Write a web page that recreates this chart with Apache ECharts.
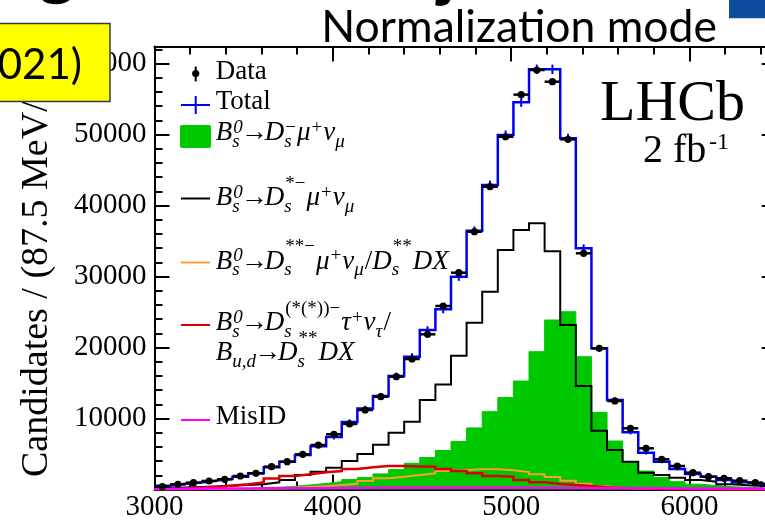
<!DOCTYPE html>
<html>
<head>
<meta charset="utf-8">
<script src="https://cdn.jsdelivr.net/npm/echarts@6/dist/echarts.min.js"></script>
<style>
  html, body { margin: 0; padding: 0; background: #fff; }
  #chart { width: 765px; height: 525px; }
</style>
</head>
<body>
<div id="chart"></div>
<script>
// Corrected-mass histogram binning (MeV), 40 bins of 87.5 MeV
const X_MIN = 3000;
const X_MAX = 6500;
const BIN_WIDTH = 87.5;
const Y_MAX = 62400;

// Observed candidates per bin
const dataCounts = [400, 730, 960, 1200, 1440, 1900, 2280, 3210, 3920, 4960,
  6270, 7780, 9230, 11200, 13070, 15890, 18380, 21860, 25850, 30540,
  36310, 42650, 49690, 55620, 59090, 57440, 49320, 33270, 19890, 12470,
  8620, 5800, 4250, 3310, 2370, 1800, 1580, 1240, 960, 800];

// Total fit and its uncertainty
const totalFit = [530, 800, 1000, 1250, 1500, 1800, 2280, 3150, 3900, 4850,
  6100, 7400, 9500, 11400, 13170, 15990, 18700, 22470, 25380, 29970,
  36450, 42890, 49930, 54540, 59190, 59190, 49460, 33970, 19890, 12610,
  8060, 5180, 3920, 2890, 2180, 1800, 1340, 1010, 730, 600];
const totalErr = [100, 120, 140, 150, 170, 190, 210, 240, 260, 290,
  320, 350, 380, 410, 440, 470, 500, 530, 560, 580,
  600, 620, 640, 650, 660, 660, 640, 560, 450, 360,
  300, 250, 220, 190, 170, 150, 130, 120, 100, 90];

// Fit components
const dsMuNu = [0, 0, 30, 60, 100, 150, 220, 320, 450, 650,
  850, 1100, 1400, 1700, 2200, 2800, 3700, 4500, 5500, 6750,
  8680, 10960, 12950, 15280, 19410, 23870, 25040, 18700, 10870, 6830,
  3800, 2600, 1700, 1100, 750, 550, 400, 300, 220, 160];
const dsStarMuNu = [200, 280, 350, 430, 520, 620, 750, 1010, 1340, 2040,
  2500, 3070, 4000, 5000, 6300, 8000, 9550, 12610, 14800, 18850,
  23500, 27860, 33730, 36550, 37490, 33550, 23170, 14580, 8260, 5560,
  3920, 2370, 2040, 1660, 1340, 1100, 730, 600, 500, 400];
const dsStarStar = [0, 10, 20, 40, 60, 90, 130, 180, 250, 350,
  470, 620, 800, 1200, 1580, 1800, 2040, 2280, 2600, 2750,
  2850, 2850, 2700, 2450, 2150, 1750, 1250, 800, 450, 250,
  130, 70, 40, 20, 10, 5, 0, 0, 0, 0];
const tauAndDD = [80, 150, 250, 380, 550, 750, 1000, 1550, 1900, 2150,
  2420, 2600, 2900, 3150, 3300, 3320, 3250, 3200, 2900, 2600,
  2280, 1900, 1800, 1340, 1010, 780, 630, 490, 300, 200,
  130, 90, 60, 40, 30, 20, 15, 10, 10, 5];
const misID = [100, 110, 120, 130, 140, 150, 160, 170, 180, 190,
  200, 210, 220, 230, 240, 250, 250, 250, 250, 250,
  250, 250, 240, 240, 230, 220, 210, 200, 190, 180,
  170, 160, 150, 140, 130, 130, 120, 120, 110, 110];

const COLORS = {
  green: '#00c800', black: '#000000', orange: '#ff9c33',
  red: '#d80000', magenta: '#ff00ff', blue: '#0000f0'
};
const SERIF = '"Liberation Serif","Times New Roman",serif';
const SANS = 'Lato,"Open Sans",sans-serif';
const K_SERIF = 0.31;   // baseline offset below the em middle
const K_SANS = 0.27;

// histogram outline: one point per lower bin edge plus the closing edge
function stepPoints(vals) {
  const pts = vals.map((v, k) => [X_MIN + k * BIN_WIDTH, v]);
  pts.push([X_MIN + vals.length * BIN_WIDTH, vals[vals.length - 1]]);
  return pts;
}
const binCenter = k => X_MIN + (k + 0.5) * BIN_WIDTH;

function histLine(name, vals, color, width, z) {
  return {
    name, type: 'line', step: 'end', data: stepPoints(vals),
    symbol: 'none', showSymbol: false, animation: false, z,
    lineStyle: { color, width, join: 'miter' }
  };
}

// --- text helpers -------------------------------------------------------
const mctx = document.createElement('canvas').getContext('2d');
function wOf(text, font) { mctx.font = font; return mctx.measureText(text).width; }
function fontStr(size, italic, family) {
  return (italic ? 'italic ' : '') + size + 'px ' + (family || SERIF);
}
function txt(text, x, baseline, size, italic, extra) {
  extra = extra || {};
  const fam = extra.family || SERIF;
  const k = extra.k || K_SERIF;
  return {
    type: 'text', x, y: baseline - k * size, z: extra.z || 50,
    style: {
      text, font: (extra.bold ? 'bold ' : '') + fontStr(size, italic, fam),
      fill: extra.color || '#000', align: extra.align || 'left', verticalAlign: 'middle'
    }
  };
}
// tiny formula layout: {t} main italic, {t, up} main upright,
// {sb, sp, hi} stacked sub/superscript
function formula(tokens, x0, baseline, size) {
  const out = [];
  const ss = Math.round(size * 0.7);
  let x = x0;
  tokens.forEach(tok => {
    if (tok.t !== undefined) {
      const it = !tok.up;
      const tight = tok.t === '\u2192' ? 3 : 0;
      x -= tight;
      out.push(txt(tok.t, x, baseline, size, it));
      x += wOf(tok.t, fontStr(size, it)) - tight;
    } else {
      let w = 0;
      if (tok.sb) {
        out.push(txt(tok.sb, x, baseline + 6, ss, true));
        w = Math.max(w, wOf(tok.sb, fontStr(ss, true)));
      }
      if (tok.sp) {
        const rise = tok.hi ? 17 : 8;
        const spIt = !tok.spUp;
        out.push(txt(tok.sp, x + 1, baseline - rise, ss, spIt));
        w = Math.max(w, wOf(tok.sp, fontStr(ss, spIt)) + 1);
      }
      x += w + 1;
    }
  });
  return out;
}

const LEG_X = 215.7;
const LEG_SIZE = 27;
const legendGraphics = [];
legendGraphics.push(
  { type: 'line', z: 50, shape: { x1: 195.7, y1: 66.5, x2: 195.7, y2: 81.5 }, style: { stroke: '#000', lineWidth: 2 } },
  { type: 'circle', z: 50, shape: { cx: 195.7, cy: 73.5, r: 3.6 }, style: { fill: '#000' } },
  txt('Data', LEG_X, 80, LEG_SIZE, false),
  { type: 'line', z: 50, shape: { x1: 181, y1: 105, x2: 210, y2: 105 }, style: { stroke: COLORS.blue, lineWidth: 2 } },
  { type: 'line', z: 50, shape: { x1: 195.7, y1: 96, x2: 195.7, y2: 114 }, style: { stroke: COLORS.blue, lineWidth: 2 } },
  txt('Total', LEG_X, 110, LEG_SIZE, false),
  { type: 'rect', z: 50, shape: { x: 180, y: 125, width: 31, height: 23, r: 2 }, style: { fill: COLORS.green } },
  { type: 'line', z: 50, shape: { x1: 181, y1: 198.5, x2: 210, y2: 198.5 }, style: { stroke: COLORS.black, lineWidth: 2 } },
  { type: 'line', z: 50, shape: { x1: 181, y1: 262.5, x2: 210, y2: 262.5 }, style: { stroke: COLORS.orange, lineWidth: 2 } },
  { type: 'line', z: 50, shape: { x1: 181, y1: 325, x2: 210, y2: 325 }, style: { stroke: COLORS.red, lineWidth: 2 } },
  { type: 'line', z: 50, shape: { x1: 181, y1: 420, x2: 210, y2: 420 }, style: { stroke: COLORS.magenta, lineWidth: 2 } },
  txt('MisID', LEG_X, 425, LEG_SIZE, false)
);
const Bs0 = [{ t: 'B' }, { sb: 's', sp: '0' }, { t: '\u2192', up: true }];
legendGraphics.push(...formula(Bs0.concat([
  { t: 'D' }, { sb: 's', sp: '\u2212', spUp: true }, { t: '\u03bc' }, { sp: '+', spUp: true },
  { t: '\u03bd' }, { sb: '\u03bc' }]), LEG_X, 141.7, LEG_SIZE));
legendGraphics.push(...formula(Bs0.concat([
  { t: 'D' }, { sb: 's', sp: '*\u2212', hi: true, spUp: true }, { t: '\u03bc' }, { sp: '+', spUp: true },
  { t: '\u03bd' }, { sb: '\u03bc' }]), LEG_X, 206.7, LEG_SIZE));
legendGraphics.push(...formula(Bs0.concat([
  { t: 'D' }, { sb: 's', sp: '**\u2212', hi: true, spUp: true }, { t: '\u03bc' }, { sp: '+', spUp: true },
  { t: '\u03bd' }, { sb: '\u03bc' }, { t: '/', up: true },
  { t: 'D' }, { sb: 's', sp: '**', hi: true, spUp: true }, { t: 'DX' }]), LEG_X, 270, LEG_SIZE));
legendGraphics.push(...formula(Bs0.concat([
  { t: 'D' }, { sb: 's', sp: '(*(*))\u2212', hi: true, spUp: true }, { t: '\u03c4' }, { sp: '+', spUp: true },
  { t: '\u03bd' }, { sb: '\u03c4' }, { t: '/', up: true }]), LEG_X, 331.7, LEG_SIZE));
legendGraphics.push(...formula([
  { t: 'B' }, { sb: 'u,d' }, { t: '\u2192', up: true },
  { t: 'D' }, { sb: 's', sp: '**', hi: true, spUp: true }, { t: 'DX' }], LEG_X, 361.7, LEG_SIZE));

// experiment label
const labelGraphics = [
  txt('LHCb', 600, 123, 58, false),
  txt('2 fb', 643, 163.5, 40, false),
  txt('-1', 709, 150, 24, false)
];

// axis title, rotated to read upwards
const yTitle = {
  type: 'text', x: 37.5, y: 477, rotation: Math.PI / 2, z: 40,
  style: { text: 'Candidates / (87.5 MeV/c\u00b2)', font: '38px ' + SERIF, fill: '#000', align: 'left', verticalAlign: 'middle' }
};

// surrounding page decorations
const pageGraphics = [
  txt('Normalization mode', 717, 39.3, 44.5, false, { family: SANS, k: K_SANS, align: 'right' }),
  { type: 'rect', z: 60, shape: { x: 729, y: -2, width: 40, height: 20.3 }, style: { fill: '#0b4c9c' } },
  { type: 'rect', z: 60, shape: { x: -3, y: 23.5, width: 113, height: 78 }, style: { fill: '#ffff00', stroke: '#2e3d4d', lineWidth: 1.5 } },
  txt('(2021)', 82, 76.7, 42, false, { family: SANS, k: K_SANS, align: 'right', z: 61 }),
  txt('g', 57, -13, 70, false, { family: SANS, k: K_SANS, align: 'center', bold: true }),
  txt('j', 447, -11, 70, false, { family: SANS, k: K_SANS, align: 'center', bold: true })
];

// --- axes ---------------------------------------------------------------
const lineBlack = { color: '#000', width: 2 };
function xAx(position, interval, tickLen, withLabels, withLine) {
  return {
    type: 'value', position, min: X_MIN, max: X_MAX, interval,
    axisLine: { show: withLine, onZero: false, lineStyle: lineBlack },
    axisTick: { show: true, inside: true, length: tickLen, lineStyle: lineBlack },
    splitLine: { show: false },
    axisLabel: withLabels ? {
      show: true, margin: 3, color: '#000', fontSize: 29, fontFamily: SERIF,
      showMaxLabel: false, formatter: v => String(v)
    } : { show: false }
  };
}
function yAx(position, interval, tickLen, withLabels, withLine) {
  return {
    type: 'value', position, min: 0, max: Y_MAX, interval,
    axisLine: { show: withLine, onZero: false, lineStyle: lineBlack },
    axisTick: { show: true, inside: true, length: tickLen, lineStyle: lineBlack },
    splitLine: { show: false },
    axisLabel: withLabels ? {
      show: true, margin: 8, color: '#000', fontSize: 29, fontFamily: SERIF,
      showMinLabel: false, showMaxLabel: false, formatter: v => String(v)
    } : { show: false }
  };
}

const option = {
  animation: false,
  backgroundColor: '#ffffff',
  grid: { left: 154.5, top: 46.5, width: 624.2, height: 443, containLabel: false, outerBoundsMode: 'none' },
  xAxis: [
    xAx('bottom', 1000, 15, true, true),
    xAx('bottom', 200, 8, false, false),
    xAx('top', 1000, 15, false, true),
    xAx('top', 200, 8, false, false)
  ],
  yAxis: [
    yAx('left', 10000, 15, true, true),
    yAx('left', 2000, 8, false, false),
    yAx('right', 10000, 17, false, true),
    yAx('right', 2000, 10, false, false)
  ],
  series: [
    {
      name: 'Ds mu nu', type: 'line', step: 'end', data: stepPoints(dsMuNu),
      symbol: 'none', showSymbol: false, z: 2,
      lineStyle: { color: COLORS.green, width: 1 },
      areaStyle: { color: COLORS.green, opacity: 1, origin: 'start' }
    },
    histLine('Ds* mu nu', dsStarMuNu, COLORS.black, 2, 3),
    histLine('Ds** mu nu / Ds** DX', dsStarStar, COLORS.orange, 2, 4),
    histLine('tau nu / Ds** DX', tauAndDD, COLORS.red, 2.5, 5),
    histLine('MisID', misID, COLORS.magenta, 2.5, 6),
    histLine('Total', totalFit, COLORS.blue, 2.5, 7),
    {
      name: 'Total error', type: 'custom', z: 8,
      data: totalFit.map((v, k) => [binCenter(k), v, totalErr[k]]),
      renderItem: (params, api) => {
        const x = api.value(0), y = api.value(1), e = api.value(2);
        const a = api.coord([x, y - e]), b = api.coord([x, y + e]);
        return { type: 'line', shape: { x1: a[0], y1: a[1], x2: b[0], y2: b[1] }, style: { stroke: COLORS.blue, lineWidth: 2 } };
      }
    },
    {
      name: 'Data', type: 'custom', z: 9,
      data: dataCounts.map((v, k) => [binCenter(k), v]),
      renderItem: (params, api) => {
        const x = api.value(0), y = api.value(1);
        const p0 = api.coord([x - BIN_WIDTH / 2, y]);
        const p1 = api.coord([x + BIN_WIDTH / 2, y]);
        const c = api.coord([x, y]);
        return {
          type: 'group', children: [
            { type: 'line', shape: { x1: p0[0], y1: p0[1], x2: p1[0], y2: p1[1] }, style: { stroke: '#000', lineWidth: 2.5 } },
            { type: 'circle', shape: { cx: c[0], cy: c[1], r: 3.6 }, style: { fill: '#000' } }
          ]
        };
      }
    }
  ],
  graphic: { elements: [].concat(legendGraphics, labelGraphics, [yTitle], pageGraphics) }
};

const chart = echarts.init(document.getElementById('chart'), null, { renderer: 'canvas' });
chart.setOption(option);
</script>
</body>
</html>
